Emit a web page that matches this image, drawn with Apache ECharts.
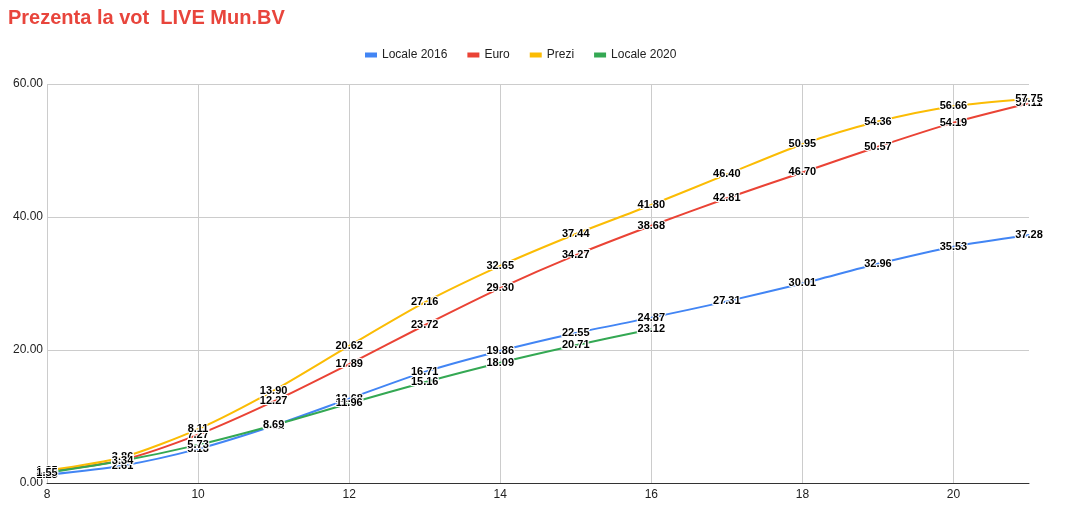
<!DOCTYPE html>
<html>
<head>
<meta charset="utf-8">
<script src="https://cdn.jsdelivr.net/npm/echarts@6/dist/echarts.min.js"></script>
<style>
  html, body { margin: 0; padding: 0; background: #fff; }
  #chart { width: 1067px; height: 530px; }
</style>
</head>
<body>
<div id="chart"></div>
<script>
// ore (axa X)
var hours = [8, 9, 10, 11, 12, 13, 14, 15, 16, 17, 18, 19, 20, 21];
var hours2020 = [8, 9, 10, 11, 12, 13, 14, 15, 16];

// prezenta (%)
var locale2016 = [1.25, 2.61, 5.13, 8.62, 12.68, 16.71, 19.86, 22.55, 24.87, 27.31, 30.01, 32.96, 35.53, 37.28];
var euro = [1.70, 3.45, 7.27, 12.27, 17.89, 23.72, 29.30, 34.27, 38.68, 42.81, 46.70, 50.57, 54.19, 57.11];
var prezi = [1.85, 3.86, 8.11, 13.90, 20.62, 27.16, 32.65, 37.44, 41.80, 46.40, 50.95, 54.36, 56.66, 57.75];
var locale2020 = [1.55, 3.34, 5.73, 8.69, 11.96, 15.16, 18.09, 20.71, 23.12];

var seriesNames = ['Locale 2016', 'Euro', 'Prezi', 'Locale 2020'];
var colors = ['#4285f4', '#ea4335', '#fbbc04', '#34a853'];

function pairs(xs, ys) {
    var out = [];
    for (let i = 0; i < ys.length; i++) {
        out.push([xs[i], ys[i]]);
    }
    return out;
}

function lineSeries(name, data) {
    return {
        name: name,
        type: 'line',
        smooth: 0.25,
        data: data,
        symbol: 'circle',
        symbolSize: 1,
        lineStyle: { width: 2 },
        label: {
            show: true,
            position: 'inside',
            formatter: function (p) {
                return p.value[1].toFixed(2);
            },
            fontFamily: 'Liberation Sans, Arial',
            fontSize: 11,
            fontWeight: 'bold',
            color: '#000',
            textBorderColor: '#fff',
            textBorderWidth: 2
        },
        emphasis: { disabled: true }
    };
}

var chart = echarts.init(document.getElementById('chart'));
chart.setOption({
    animation: false,
    color: colors,
    textStyle: { fontFamily: 'Liberation Sans, Arial' },
    title: {
        text: 'Prezenta la vot  LIVE Mun.BV',
        left: 3,
        top: 3,
        textStyle: {
            color: '#e8453c',
            fontSize: 20,
            fontWeight: 'bold',
            fontFamily: 'Liberation Sans, Arial'
        }
    },
    legend: {
        data: seriesNames,
        top: 44,
        left: 360,
        icon: 'rect',
        itemWidth: 12,
        itemHeight: 5,
        itemGap: 20,
        textStyle: { fontSize: 12, color: '#222' }
    },
    grid: {
        left: 47,
        right: 38,
        top: 84,
        bottom: 47
    },
    xAxis: {
        type: 'value',
        min: 8,
        max: 21,
        interval: 2,
        axisLine: { show: true, lineStyle: { color: '#333', width: 1 } },
        axisTick: { show: false },
        axisLabel: {
            color: '#222',
            fontSize: 12,
            margin: 6,
            showMaxLabel: false
        },
        splitLine: { show: true, showMaxLine: false, lineStyle: { color: '#ccc' } }
    },
    yAxis: {
        type: 'value',
        min: 0,
        max: 60,
        interval: 20,
        axisLine: { show: false },
        axisTick: { show: false },
        axisLabel: {
            color: '#222',
            fontSize: 12,
            margin: 4,
            formatter: function (v) { return v.toFixed(2); }
        },
        splitLine: { show: true, lineStyle: { color: '#ccc' } }
    },
    series: [
        lineSeries('Locale 2016', pairs(hours, locale2016)),
        lineSeries('Euro', pairs(hours, euro)),
        lineSeries('Prezi', pairs(hours, prezi)),
        lineSeries('Locale 2020', pairs(hours2020, locale2020))
    ]
});
</script>
</body>
</html>
